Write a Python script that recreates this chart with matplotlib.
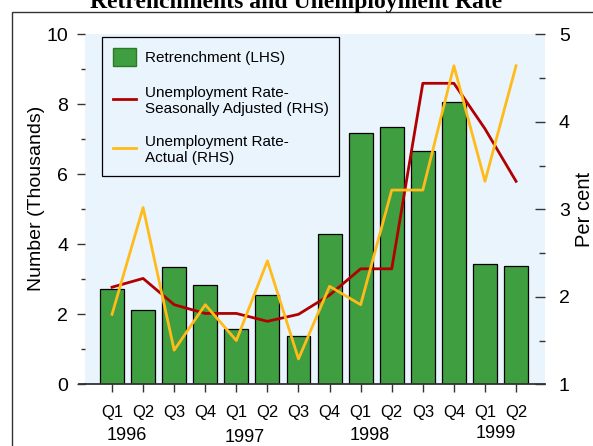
import matplotlib
matplotlib.use("Agg")
import matplotlib.pyplot as plt
from matplotlib.patches import Rectangle, Patch
from matplotlib.lines import Line2D

quarters = ['Q1', 'Q2', 'Q3', 'Q4', 'Q1', 'Q2', 'Q3', 'Q4',
            'Q1', 'Q2', 'Q3', 'Q4', 'Q1', 'Q2']
years = ['1996', '1997', '1998', '1999']
retrench = [2.72, 2.11, 3.36, 2.85, 1.58, 2.56, 1.37, 4.3,
            7.17, 7.34, 6.68, 8.07, 3.44, 3.38]
unemp_sa = [2.11, 2.21, 1.91, 1.81, 1.81, 1.72, 1.80, 2.02,
            2.32, 2.32, 4.44, 4.44, 3.92, 3.32]
unemp_actual = [1.80, 3.02, 1.39, 1.91, 1.50, 2.41, 1.29, 2.12,
                1.91, 3.22, 3.22, 4.64, 3.32, 4.64]

green = '#3f9e3f'
red = '#b00000'
yellow = '#ffbb1a'
bg = '#eaf4fd'
grey = '#333333'

plt.rcParams['font.family'] = ['Liberation Sans', 'DejaVu Sans']

fig = plt.figure(figsize=(5.93, 4.46), dpi=100)
ax = fig.add_axes([0.1433, 0.1383, 0.7757, 0.7848])
ax2 = ax.twinx()

x = list(range(len(quarters)))
ax.set_facecolor(bg)
ax.bar(x, retrench, width=0.77, color=green, edgecolor='black', linewidth=0.9)
ax2.plot(x, unemp_sa, color=red, lw=2)
ax2.plot(x, unemp_actual, color=yellow, lw=2)

ax.set_xlim(-0.87, 13.93)
ax.set_ylim(0, 10)
ax2.set_ylim(1, 5)

for a in (ax, ax2):
    for s in a.spines.values():
        s.set_visible(False)
ax.spines['bottom'].set_visible(True)
ax.spines['bottom'].set_color(grey)
ax.spines['bottom'].set_linewidth(1.3)
ax.add_line(Line2D([-0.013, 0], [0, 0], transform=ax.transAxes, color=grey,
                   lw=1.3, clip_on=False))

ax.set_xticks(x)
ax.set_xticklabels(quarters, fontsize=12)
ax.tick_params(axis='x', length=6, width=1, color=grey, pad=9)

ax.set_yticks([0, 2, 4, 6, 8, 10])
ax.set_yticks([1, 3, 5, 7, 9], minor=True)
ax.tick_params(axis='y', which='major', length=6, width=1, color=grey,
               labelsize=14, pad=6)
ax.tick_params(axis='y', which='minor', length=3, width=1, color=grey)

ax2.set_yticks([1, 2, 3, 4, 5])
ax2.set_yticks([1.5, 2.5, 3.5, 4.5], minor=True)
ax2.tick_params(axis='y', which='major', direction='in', length=7, width=1,
                color=grey, labelsize=14, pad=10)
ax2.tick_params(axis='y', which='minor', direction='in', length=4, width=1,
                color=grey)

ax.set_ylabel('Number (Thousands)', fontsize=14)
ax.yaxis.set_label_coords(-0.087, 0.53)
ax2.set_ylabel('Per cent', fontsize=14.5, rotation=90)
ax2.yaxis.set_label_coords(1.066, 0.5)

year_x = [0.48, 4.28, 8.3, 12.36]
year_y = [-0.146, -0.153, -0.146, -0.141]
for yr, xp, yp in zip(years, year_x, year_y):
    ax.text(xp, yp, yr, transform=ax.get_xaxis_transform(), ha='center',
            va='center', fontsize=13)

handles = [Patch(facecolor=green, edgecolor='#2a7a2a'),
           Line2D([], [], color=red, lw=2),
           Line2D([], [], color=yellow, lw=2)]
labels = ['Retrenchment (LHS)',
          'Unemployment Rate-\nSeasonally Adjusted (RHS)',
          'Unemployment Rate-\nActual (RHS)']
leg = ax2.legend(handles, labels, loc='upper left',
                 bbox_to_anchor=(0.037, 0.992), borderaxespad=0,
                 fontsize=11, fancybox=False, edgecolor='black',
                 facecolor=bg, framealpha=1, handlelength=1.5,
                 handleheight=1.5, labelspacing=1.25, borderpad=0.7,
                 handletextpad=0.6)
leg.get_frame().set_linewidth(0.9)

fig.text(0.5, 0.983, 'Retrenchments and Unemployment Rate',
         ha='center', va='baseline', fontsize=17, fontweight='bold',
         family=['Liberation Serif', 'DejaVu Serif'])

fig.patches.append(Rectangle((12 / 593, -0.1), 1.0, 0.1 + (446 - 12) / 446,
                             transform=fig.transFigure, fill=False,
                             edgecolor=grey, lw=1))

fig.savefig('out.png', dpi=100)
